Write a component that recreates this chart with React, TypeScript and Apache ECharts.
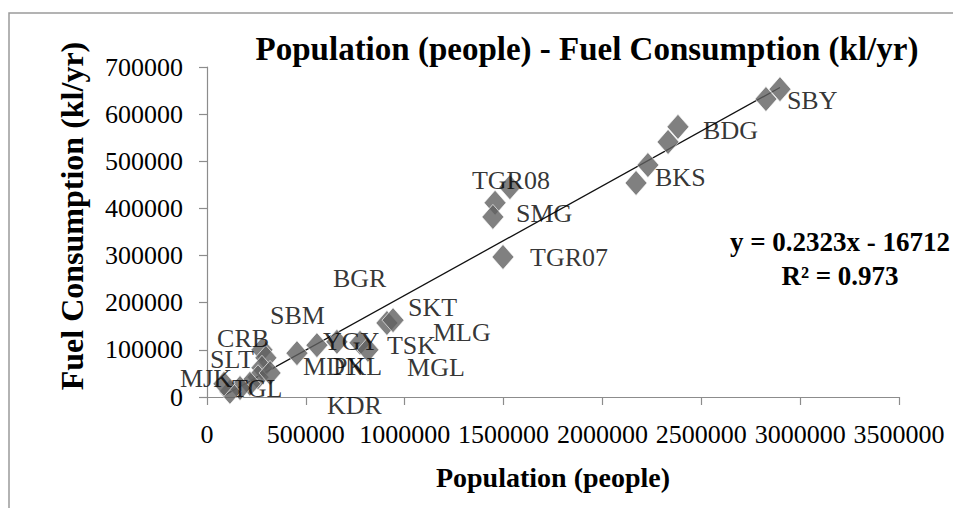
import React, { useEffect, useRef } from "react";
import * as echarts from "echarts";

// Observed points: population (people) and fuel consumption (kl/yr)
const population = [
  2898000, 2827000, 2382000, 2332000, 2230000, 2170000,
  1532000, 1457000, 1446000, 1497000,
  910000, 941000, 455000, 556000, 657000, 774000, 814000,
  278000, 298000, 278000, 258000, 217000, 167000, 116000, 86000, 319000,
];
const fuelConsumption = [
  653000, 632000, 573000, 541000, 492000, 454000,
  445000, 412000, 382000, 297000,
  157000, 163000, 93000, 110000, 117000, 115000, 100000,
  100000, 83000, 62000, 42000, 28000, 19000, 11000, 28000, 51000,
];

// Data labels (city codes) and where they sit, in data units
const labelNames = [
  "SBY", "BDG", "BKS", "TGR08", "SMG", "TGR07", "BGR", "SKT", "MLG", "TSK",
  "MGL", "YGY", "MDN", "PKL", "KDR", "SBM", "CRB", "SLT", "MJK", "TGL",
];
const labelPopulation = [
  2933000, 2509000, 2266000, 1340000, 1563000, 1634000, 637000, 1017000, 1143000, 910000,
  1012000, 587000, 486000, 637000, 607000, 319000, 51000, 15000, -137000, 126000,
];
const labelFuel = [
  628000, 566000, 465000, 460000, 390000, 295000, 252000, 189000, 136000, 110000,
  62000, 117000, 64000, 64000, -17000, 172000, 125000, 80000, 40000, 17000,
];

// Axes
const xMin = 0;
const xMax = 3500000;
const xStep = 500000;
const yMin = 0;
const yMax = 700000;
const yStep = 100000;

// Linear trendline reported on the chart
const trendSlope = 0.2323;
const trendIntercept = -16712;
const equationText = "y = 0.2323x - 16712";
const r2Text = "R² = 0.973";

const titleText = "Population (people) - Fuel Consumption (kl/yr)";
const xName = "Population (people)";
const yName = "Fuel Consumption (kl/yr)";

const SERIF = "'Liberation Serif', 'Times New Roman', serif";

export default function App() {
  const ref = useRef<HTMLDivElement>(null);

  useEffect(() => {
    if (!ref.current) return;
    const chart = echarts.init(ref.current, undefined, { renderer: "svg" });
    const pts = population.map((x, i) => [x, fuelConsumption[i]]);
    const minX = Math.min(...population);
    const maxX = Math.max(...population);
    const trend = [
      [minX, trendSlope * minX + trendIntercept],
      [maxX, trendSlope * maxX + trendIntercept],
    ];
    const labels = labelNames.map((n, i) => ({
      name: n,
      value: [labelPopulation[i], labelFuel[i]],
    }));

    const axisCommon = {
      type: "value" as const,
      splitLine: { show: false },
      axisLine: { show: true, onZero: false, lineStyle: { color: "#8c8c8c", width: 1.2 } },
      axisTick: { show: true, length: 8, inside: false, lineStyle: { color: "#8c8c8c", width: 1.2 } },
    };
    const tickLabel = {
      fontFamily: SERIF,
      fontSize: 26,
      color: "#000",
      margin: 24,
      hideOverlap: false,
      formatter: (v: number) => String(v),
    };

    chart.setOption({
      animation: false,
      backgroundColor: "#ffffff",
      title: {
        text: titleText,
        left: 582,
        top: 27,
        textAlign: "center",
        textStyle: { fontFamily: SERIF, fontSize: 33, fontWeight: "bold", color: "#000" },
      },
      grid: { left: 207, top: 67, width: 692, height: 330, containLabel: false, outerBoundsMode: "none" },
      xAxis: {
        ...axisCommon,
        min: xMin,
        max: xMax,
        interval: xStep,
        name: xName,
        nameLocation: "middle",
        nameGap: 66,
        nameTextStyle: { fontFamily: SERIF, fontSize: 28, fontWeight: "bold", color: "#000" },
        axisLabel: tickLabel,
      },
      yAxis: {
        ...axisCommon,
        min: yMin,
        max: yMax,
        interval: yStep,
        axisLabel: tickLabel,
      },
      series: [
        {
          type: "line",
          data: trend,
          symbol: "none",
          lineStyle: { color: "#111", width: 1.3 },
          z: 2,
          silent: true,
        },
        {
          type: "scatter",
          data: pts,
          symbol: "diamond",
          symbolSize: [22, 25],
          itemStyle: { color: "#606060", borderColor: "#ffffff", borderWidth: 0.8 },
          z: 3,
        },
        {
          type: "scatter",
          data: labels,
          symbolSize: 0,
          clip: false,
          silent: true,
          z: 4,
          label: {
            show: true,
            position: [0, 0],
            align: "left",
            verticalAlign: "middle",
            formatter: "{b}",
            fontFamily: SERIF,
            fontSize: 26,
            color: "#000",
          },
        },
      ],
      graphic: [
        {
          type: "rect",
          shape: { x: 9, y: 13, width: 1000, height: 600 },
          style: { fill: "none", stroke: "#9a9a9a", lineWidth: 1.5 },
          silent: true,
          z: -1,
        },
        {
          type: "text",
          x: 72,
          y: 216,
          rotation: Math.PI / 2,
          style: {
            text: yName,
            fontFamily: SERIF,
            fontSize: 32,
            fontWeight: "bold",
            fill: "#000",
            align: "center",
            verticalAlign: "middle",
          },
        },
        {
          type: "text",
          x: 840,
          y: 242,
          style: {
            text: equationText,
            fontFamily: SERIF,
            fontSize: 27,
            fontWeight: "bold",
            fill: "#000",
            align: "center",
            verticalAlign: "middle",
          },
        },
        {
          type: "text",
          x: 840,
          y: 276,
          style: {
            text: r2Text,
            fontFamily: SERIF,
            fontSize: 27,
            fontWeight: "bold",
            fill: "#000",
            align: "center",
            verticalAlign: "middle",
          },
        },
      ],
    });
    return () => chart.dispose();
  }, []);

  return (
    <div
      ref={ref}
      style={{ position: "fixed", left: 0, top: 0, width: 953, height: 508, background: "#fff" }}
    />
  );
}
